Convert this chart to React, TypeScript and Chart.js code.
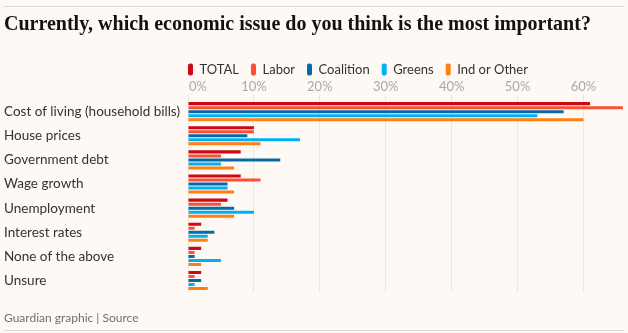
import { useEffect, useRef } from 'react';
import { Chart, registerables } from 'chart.js';
Chart.register(...registerables);

const categories = [
  'Cost of living (household bills)',
  'House prices',
  'Government debt',
  'Wage growth',
  'Unemployment',
  'Interest rates',
  'None of the above',
  'Unsure',
];
const seriesNames = ['TOTAL', 'Labor', 'Coalition', 'Greens', 'Ind or Other'];
const total = [61, 10, 8, 8, 6, 2, 2, 2];
const labor = [66, 10, 5, 11, 5, 1, 1, 1];
const coalition = [57, 9, 14, 6, 7, 4, 1, 2];
const greens = [53, 17, 5, 6, 10, 3, 5, 1];
const indOther = [60, 11, 7, 7, 7, 3, 2, 3];
const xTickValues = [0, 10, 20, 30, 40, 50, 60];
const titleText = 'Currently, which economic issue do you think is the most important?';
const footerText = 'Guardian graphic | Source';

const colors = ['#cc0a11', '#ff4e36', '#066ba3', '#00b0f6', '#ff7f0f'];
const BG = '#fff9f5';
const SANS = 'Lato, "Noto Sans", sans-serif';

const framePlugin = {
  id: 'frame',
  beforeDraw(chart: any) {
    const ctx = chart.ctx;
    ctx.save();
    ctx.fillStyle = BG;
    ctx.fillRect(0, 0, chart.width, chart.height);
    ctx.strokeStyle = '#dcdad7';
    ctx.lineWidth = 1;
    ctx.beginPath();
    ctx.moveTo(4, 6.5);
    ctx.lineTo(624, 6.5);
    ctx.moveTo(4, 330.5);
    ctx.lineTo(624, 330.5);
    ctx.stroke();
    ctx.restore();
  },
  afterLayout(chart: any) {
    const lg = chart.legend;
    if (lg) {
      const pad = lg.options.labels.padding;
      lg.left = chart.chartArea.left - pad;
    }
  },
};

export default function App() {
  const ref = useRef<HTMLCanvasElement>(null);
  useEffect(() => {
    const series = [total, labor, coalition, greens, indOther];
    const chart = new Chart(ref.current!, {
      type: 'bar',
      data: {
        labels: categories,
        datasets: series.map((d, i) => ({
          label: seriesNames[i],
          data: d,
          backgroundColor: colors[i],
          borderWidth: 0,
          categoryPercentage: 20 / 24,
          barPercentage: 0.75,
        })),
      },
      options: {
        indexAxis: 'y',
        animation: false,
        responsive: false,
        maintainAspectRatio: false,
        layout: { padding: { left: 4, right: 5, top: 0, bottom: 0 } },
        scales: {
          x: {
            position: 'top',
            min: 0,
            max: 66,
            z: 1,
            afterBuildTicks: (s: any) => {
              s.ticks = xTickValues.map((v) => ({ value: v }));
            },
            ticks: {
              stepSize: 10,
              color: '#a9a9a9',
              font: { family: SANS, size: 13 },
              padding: 0,
              maxRotation: 0,
              callback: (v: any) => (Number(v) === 0 ? '      0%' : v + '%'),
            },
            grid: {
              color: '#ebe7e3',
              lineWidth: 1,
              tickLength: 5,
            },
            border: { display: false },
          },
          y: {
            afterFit: (s: any) => {
              s.width = 184;
            },
            ticks: {
              crossAlign: 'far',
              color: '#333333',
              font: { family: SANS, size: 13.5 },
              padding: 0,
            },
            grid: { display: false },
            border: { display: false },
          },
        },
        plugins: {
          tooltip: { enabled: false },
          title: {
            display: true,
            text: titleText,
            align: 'start',
            color: '#121212',
            font: { family: '"Liberation Serif", serif', size: 20, weight: 'bold' },
            padding: { top: 13, bottom: 14 },
          },
          legend: {
            display: true,
            align: 'start',
            maxHeight: 28,
            labels: {
              boxWidth: 5,
              boxHeight: 12,
              padding: 12,
              useBorderRadius: true,
              borderRadius: 2,
              color: '#333333',
              font: { family: SANS, size: 13 },
            },
          },
          subtitle: {
            display: true,
            position: 'bottom',
            text: footerText,
            align: 'start',
            color: '#707070',
            font: { family: SANS, size: 12 },
            padding: { top: 18, bottom: 8 },
          },
        },
      },
      plugins: [framePlugin],
    } as any);
    return () => chart.destroy();
  }, []);
  return (
    <div style={{ position: 'fixed', left: 0, top: 0, width: 628, height: 333, background: BG }}>
      <canvas ref={ref} width={628} height={333} style={{ display: 'block', width: 628, height: 333 }} />
    </div>
  );
}
